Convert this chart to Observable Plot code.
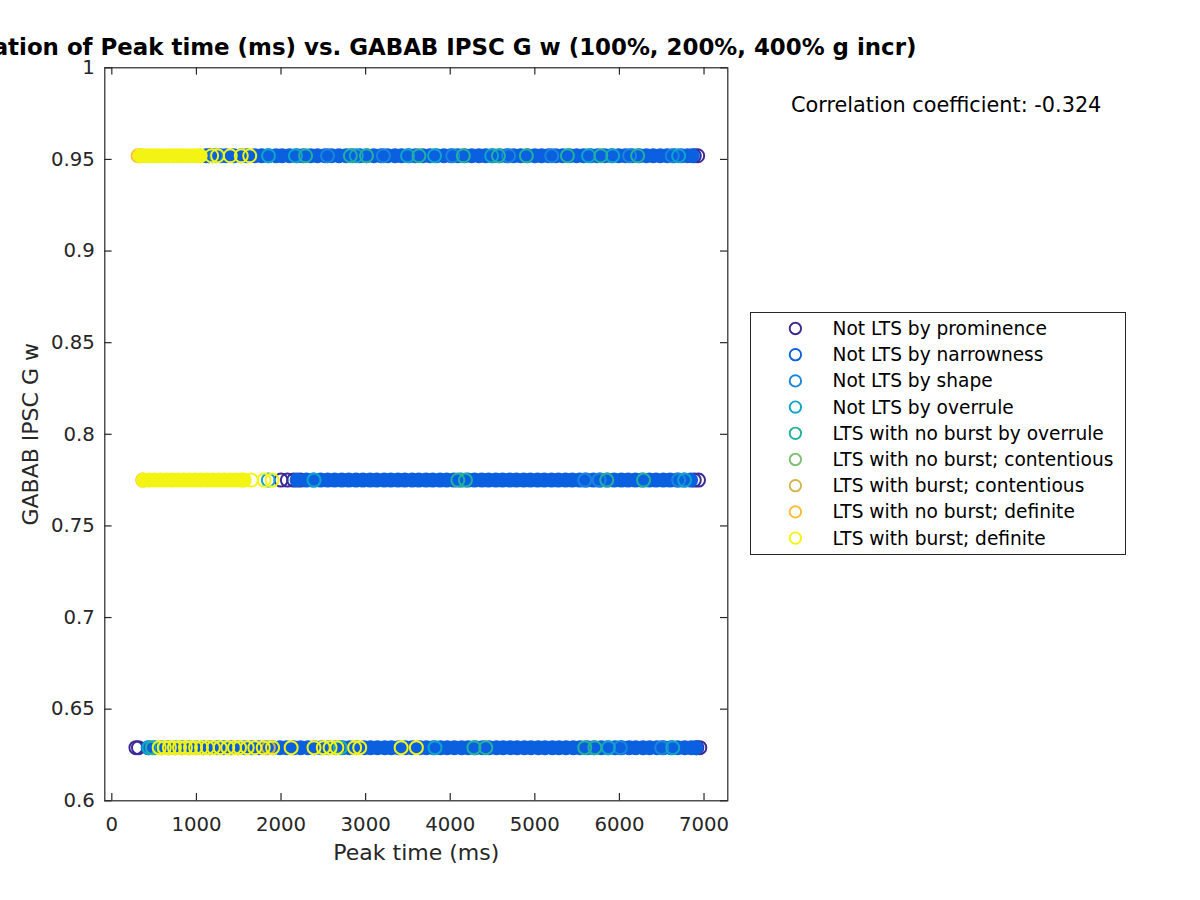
<!DOCTYPE html>
<html><head><meta charset="utf-8">
<script src="https://cdn.jsdelivr.net/npm/d3@7"></script>
<script src="https://cdn.jsdelivr.net/npm/@observablehq/plot@0.6"></script>
<style>
body{margin:0;background:#fff;}
#wrap{position:relative;width:1200px;height:900px;overflow:hidden;font-family:"DejaVu Sans",sans-serif;background:#fff;}
#overlay{position:absolute;left:0;top:0;pointer-events:none;}
</style></head><body><div id="wrap"></div>
<script>
// ---------- data ----------
const titleText = "Correlation of Peak time (ms) vs. GABAB IPSC G w (100%, 200%, 400% g incr)";
const xLabel = "Peak time (ms)";
const yLabel = "GABAB IPSC G w";
const corrText = "Correlation coefficient: -0.324";
const xTicks = [0, 1000, 2000, 3000, 4000, 5000, 6000, 7000];
const yTicks = [0.6, 0.65, 0.7, 0.75, 0.8, 0.85, 0.9, 0.95, 1];
const gLevels = [0.629, 0.775, 0.952];

const categories = [
  "Not LTS by prominence",
  "Not LTS by narrowness",
  "Not LTS by shape",
  "Not LTS by overrule",
  "LTS with no burst by overrule",
  "LTS with no burst; contentious",
  "LTS with burst; contentious",
  "LTS with no burst; definite",
  "LTS with burst; definite"
];
const catColors = ["#3c2a96", "#0b60e0", "#1a86db", "#0fa5c9", "#23b19e", "#7fbf72", "#d3b452", "#fdbd35", "#f4f414"];

// Peak times (ms) per category and GABAB level
// Not LTS by prominence
const prom629 = [285, 315, 6915, 6950];
const prom775 = [2000, 2075, 2150, 2230, 6885, 6935];
const prom952 = [1150, 6885, 6925];
// Not LTS by narrowness (dense)
const narrow629 = [430, 508, 590, 668, 752, 829, 916, 994, 1079, 1158, 1246, 1322, 1409, 1490, 1571, 1655, 1738, 1820, 1903, 1987, 2066, 2150, 2232, 2318, 2398, 2480, 2563, 2650, 2727, 2811, 2893, 2980, 3058, 3141, 3226, 3305, 3391, 3470, 3553, 3640, 3718, 3802, 3886, 3965, 4049, 4135, 4212, 4296, 4381, 4460, 4547, 4626, 4710, 4791, 4877, 4955, 5041, 5120, 5207, 5286, 5369, 5455, 5533, 5619, 5698, 5785, 5862, 5949, 6028, 6115, 6193, 6280, 6358, 6444, 6522, 6610, 6688, 6772, 6850, 6905];
const narrow775 = [2190, 2300, 2382, 2468, 2551, 2633, 2719, 2800, 2886, 2968, 3052, 3131, 3219, 3298, 3383, 3463, 3550, 3628, 3714, 3793, 3879, 3958, 4043, 4124, 4209, 4288, 4374, 4453, 4539, 4618, 4704, 4783, 4868, 4948, 5033, 5112, 5198, 5278, 5363, 5443, 5529, 5608, 5693, 5773, 5859, 5938, 6023, 6103, 6188, 6268, 6353, 6433, 6519, 6598, 6683, 6763, 6842];
const narrow952 = [1115, 1190, 1282, 1350, 1441, 1530, 1598, 1690, 1772, 1850, 1941, 2013, 2100, 2188, 2262, 2350, 2431, 2519, 2597, 2684, 2770, 2843, 2930, 3011, 3097, 3182, 3260, 3347, 3425, 3512, 3590, 3678, 3760, 3838, 3925, 4008, 4090, 4171, 4255, 4340, 4418, 4503, 4585, 4669, 4750, 4832, 4915, 5001, 5080, 5162, 5249, 5330, 5410, 5494, 5577, 5660, 5740, 5825, 5907, 5990, 6071, 6152, 6236, 6318, 6400, 6483, 6565, 6648, 6730, 6805, 6862];
// Not LTS by shape
const shape629 = [6010, 6500];
const shape775 = [5590, 5760, 6700];
const shape952 = [1230, 2550, 3210, 4030, 4690, 5200, 6120, 6625];
// Not LTS by overrule
const over629 = [440, 3820, 5870, 6630];
const over775 = [1850, 2390, 6770];
const over952 = [1852, 2170, 2890, 3495, 3815, 4490, 5635, 5920, 6700];
// LTS with no burst by overrule
const noBurstOver629 = [480, 2700, 4280, 4420, 5590, 5710];
const noBurstOver775 = [4090, 4180, 5850, 6285];
const noBurstOver952 = [2290, 2820, 3010, 3630, 4155, 4570, 4900, 5385, 5780, 6215];
// LTS with burst; contentious
const burstCont629 = [1850];
// LTS with no burst; definite
const noBurstDef775 = [365];
const noBurstDef952 = [310, 345];
// LTS with burst; definite (dense clusters and single points)
const burstDefDense775 = [372, 440, 508, 577, 645, 713, 782, 850, 918, 987, 1055, 1123, 1192, 1260, 1328, 1397, 1465, 1530, 1565];
const burstDefDense952 = [335, 390, 447, 503, 560, 616, 673, 729, 786, 842, 899, 955, 1012, 1045];
const burstDef629 = [560, 620, 680, 740, 800, 870, 930, 990, 1060, 1130, 1200, 1280, 1370, 1450, 1510, 1600, 1690, 1790, 1900, 2120, 2390, 2500, 2580, 2660, 2870, 2930, 3420, 3600];
const burstDef775 = [1650, 1800, 1895];
const burstDef952 = [1180, 1250, 1400, 1530, 1630];

// ---------- build ----------
function pts(arr, level) { return arr.map(x => ({x, y: level})); }
const groups = [
  {c: 0, dense: false, data: [...pts(prom629, gLevels[0]), ...pts(prom775, gLevels[1]), ...pts(prom952, gLevels[2])]},
  {c: 1, dense: true,  data: [...pts(narrow629, gLevels[0]), ...pts(narrow775, gLevels[1]), ...pts(narrow952, gLevels[2])]},
  {c: 2, dense: false, data: [...pts(shape629, gLevels[0]), ...pts(shape775, gLevels[1]), ...pts(shape952, gLevels[2])]},
  {c: 3, dense: false, data: [...pts(over629, gLevels[0]), ...pts(over775, gLevels[1]), ...pts(over952, gLevels[2])]},
  {c: 4, dense: false, data: [...pts(noBurstOver629, gLevels[0]), ...pts(noBurstOver775, gLevels[1]), ...pts(noBurstOver952, gLevels[2])]},
  {c: 6, dense: false, data: [...pts(burstCont629, gLevels[0])]},
  {c: 7, dense: false, data: [...pts(noBurstDef775, gLevels[1]), ...pts(noBurstDef952, gLevels[2])]},
  {c: 8, dense: true,  data: [...pts(burstDefDense775, gLevels[1]), ...pts(burstDefDense952, gLevels[2])]},
  {c: 8, dense: false, data: [...pts(burstDef629, gLevels[0]), ...pts(burstDef775, gLevels[1]), ...pts(burstDef952, gLevels[2])]}
];

const L = 104.3, R = 727.3, T = 67.3, B = 800.3;
const innerW = R - L, innerH = B - T, tk = 7.3;
const axisColor = "#262626";

const dotMarks = groups.map(g => Plot.dot(g.data, {
  x: "x", y: "y", r: 6.5, strokeWidth: 2,
  stroke: catColors[g.c], fill: g.dense ? catColors[g.c] : "none"
}));

const chart = Plot.plot({
  width: 1200, height: 900,
  marginLeft: L, marginRight: 1200 - R, marginTop: T, marginBottom: 900 - B,
  style: {fontFamily: "DejaVu Sans", color: axisColor, background: "white", overflow: "visible"},
  x: {domain: [-83, 7281]},
  y: {domain: [0.6, 1]},
  marks: [
    ...dotMarks,
    Plot.frame({stroke: axisColor, strokeWidth: 1.2}),
    Plot.tickX(xTicks, {x: d => d, insetTop: innerH - tk, stroke: axisColor, strokeWidth: 1.2}),
    Plot.tickX(xTicks, {x: d => d, insetBottom: innerH - tk, stroke: axisColor, strokeWidth: 1.2}),
    Plot.tickY(yTicks, {y: d => d, insetRight: innerW - tk, stroke: axisColor, strokeWidth: 1.2}),
    Plot.tickY(yTicks, {y: d => d, insetLeft: innerW - tk, stroke: axisColor, strokeWidth: 1.2}),
    Plot.axisX({ticks: xTicks, tickSize: 0, tickPadding: 16, fontSize: 19.7, tickFormat: d => String(d), label: null}),
    Plot.axisY({ticks: yTicks, tickSize: 0, tickPadding: 10, fontSize: 19.7, tickFormat: d => String(+d.toFixed(2)), label: null}),
    Plot.text([xLabel], {frameAnchor: "bottom", dy: 59, fontSize: 22, fill: axisColor}),
    Plot.text([yLabel], {frameAnchor: "left", textAnchor: "middle", rotate: -90, dx: -74, fontSize: 22, fill: axisColor}),
    Plot.text([titleText], {frameAnchor: "top", dy: -29, dx: -1, fontSize: 22.9, fontWeight: "bold", fill: "#000"})
  ]
});
const wrap = document.getElementById("wrap");
wrap.appendChild(chart);

// overlay: correlation text and legend
const svg = d3.select(wrap).append("svg").attr("id", "overlay").attr("width", 1200).attr("height", 900)
  .style("font-family", "DejaVu Sans");
svg.append("text").attr("x", 791).attr("y", 111.5).attr("font-size", 20.8).attr("fill", "#000").text(corrText);

const lg = svg.append("g");
lg.append("rect").attr("x", 750.5).attr("y", 312.5).attr("width", 375).attr("height", 242)
  .attr("fill", "white").attr("stroke", axisColor).attr("stroke-width", 1);
categories.forEach((name, i) => {
  const cy = 328.5 + i * 26.2;
  lg.append("circle").attr("cx", 795.4).attr("cy", cy).attr("r", 5.7)
    .attr("fill", "none").attr("stroke", catColors[i]).attr("stroke-width", 1.9);
  lg.append("text").attr("x", 832.5).attr("y", cy).attr("dy", "0.35em")
    .attr("font-size", 18.6).attr("fill", "#000").text(name);
});
</script></body></html>
